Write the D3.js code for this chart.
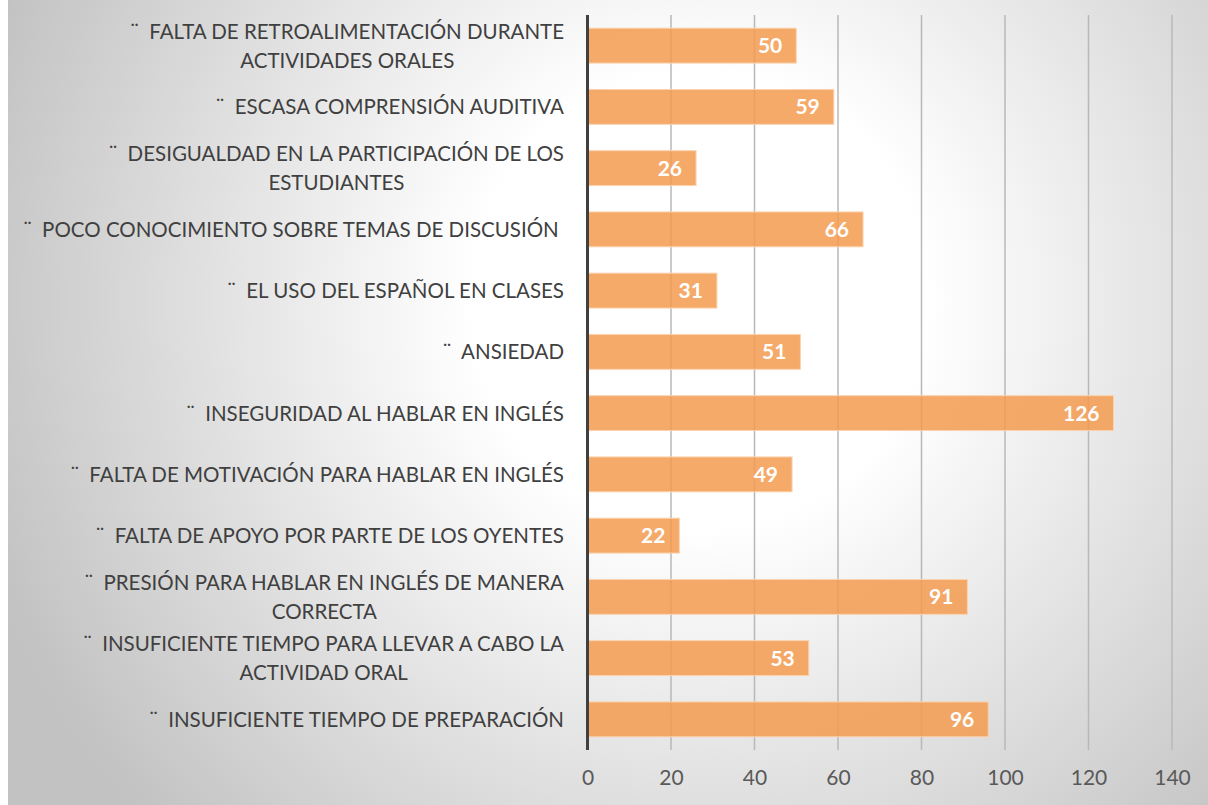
<!DOCTYPE html>
<html><head><meta charset="utf-8">
<script src="https://cdn.jsdelivr.net/npm/d3@7"></script>
<style>html,body{margin:0;padding:0;background:#fff;}svg{display:block;}</style>
</head><body>
<script>
const categories = [
  "¨  FALTA DE RETROALIMENTACIÓN DURANTE\nACTIVIDADES ORALES",
  "¨  ESCASA COMPRENSIÓN AUDITIVA",
  "¨  DESIGUALDAD EN LA PARTICIPACIÓN DE LOS\nESTUDIANTES",
  "¨  POCO CONOCIMIENTO SOBRE TEMAS DE DISCUSIÓN ",
  "¨  EL USO DEL ESPAÑOL EN CLASES",
  "¨  ANSIEDAD",
  "¨  INSEGURIDAD AL HABLAR EN INGLÉS",
  "¨  FALTA DE MOTIVACIÓN PARA HABLAR EN INGLÉS",
  "¨  FALTA DE APOYO POR PARTE DE LOS OYENTES",
  "¨  PRESIÓN PARA HABLAR EN INGLÉS DE MANERA\nCORRECTA",
  "¨  INSUFICIENTE TIEMPO PARA LLEVAR A CABO LA\nACTIVIDAD ORAL",
  "¨  INSUFICIENTE TIEMPO DE PREPARACIÓN"
];
const values = [50, 59, 26, 66, 31, 51, 126, 49, 22, 91, 53, 96];
const xTicks = [0, 20, 40, 60, 80, 100, 120, 140];

const W = 1208, H = 805;
const svg = d3.select("body").append("svg").attr("width", W).attr("height", H);
const defs = svg.append("defs");
const grad = defs.append("radialGradient").attr("id","bg")
  .attr("gradientUnits","userSpaceOnUse").attr("cx",700).attr("cy",300).attr("r",760);
grad.append("stop").attr("offset","0").attr("stop-color","#ffffff");
grad.append("stop").attr("offset","0.3").attr("stop-color","#ffffff");
grad.append("stop").attr("offset","1").attr("stop-color","#c2c2c2");
svg.append("rect").attr("x",8).attr("y",0).attr("width",W-8).attr("height",H).attr("fill","url(#bg)");

const x = d3.scaleLinear().domain([0,140]).range([587.5,1172]);
const y = d3.scaleBand().domain(d3.range(categories.length)).range([15,750]).paddingInner(0.43).paddingOuter(0.215);

const font = "Lato, 'Open Sans', sans-serif";

// gridlines
svg.append("g").selectAll("line").data(xTicks.filter(d=>d>0)).join("line")
  .attr("x1",d=>x(d)).attr("x2",d=>x(d)).attr("y1",15).attr("y2",750)
  .attr("stroke","#b8b8b8").attr("stroke-width",1.5);

// bars
svg.append("g").selectAll("rect").data(values).join("rect")
  .attr("x",x(0)).attr("y",(d,i)=>y(i)).attr("width",d=>x(d)-x(0)).attr("height",y.bandwidth())
  .attr("fill","#f39b50").attr("fill-opacity",0.85)
  .attr("stroke","#fbd3b0").attr("stroke-width",1);

// value labels
svg.append("g").selectAll("text").data(values).join("text")
  .attr("x",d=>x(d)-14).attr("y",(d,i)=>y(i)+y.bandwidth()/2)
  .attr("dy","0.36em").attr("text-anchor","end")
  .attr("font-family",font).attr("font-weight","bold").attr("font-size",21)
  .attr("fill","#ffffff").text(d=>d);

// y axis line
svg.append("line").attr("x1",x(0)).attr("x2",x(0)).attr("y1",15).attr("y2",750)
  .attr("stroke","#404040").attr("stroke-width",3);

// x tick labels
const xAxis = d3.axisBottom(x).tickValues(xTicks).tickSize(0).tickPadding(0);
const gx = svg.append("g").attr("transform","translate(0,770)").call(xAxis);
gx.select(".domain").remove();
gx.selectAll("text").attr("font-family",font).attr("font-size",21).attr("fill","#595959").attr("dy","0.71em");

// category labels
const rightEdge = 564, lineH = 29;
const lg = svg.append("g");
categories.forEach((c,i)=>{
  const lines = c.split("\n");
  const cy = y(i)+y.bandwidth()/2;
  const t = lg.append("text").attr("font-family",font).attr("font-size",20.5).attr("fill","#404040")
    .attr("text-anchor","middle").attr("xml:space","preserve").style("white-space","pre");
  const spans = lines.map((l,k)=>t.append("tspan").attr("y",cy+(k-(lines.length-1)/2)*lineH).attr("dy","0.36em").text(l));
  const maxW = d3.max(spans, s=>s.node().getComputedTextLength());
  spans.forEach(s=>s.attr("x",rightEdge-maxW/2));
});
</script>
</body></html>
